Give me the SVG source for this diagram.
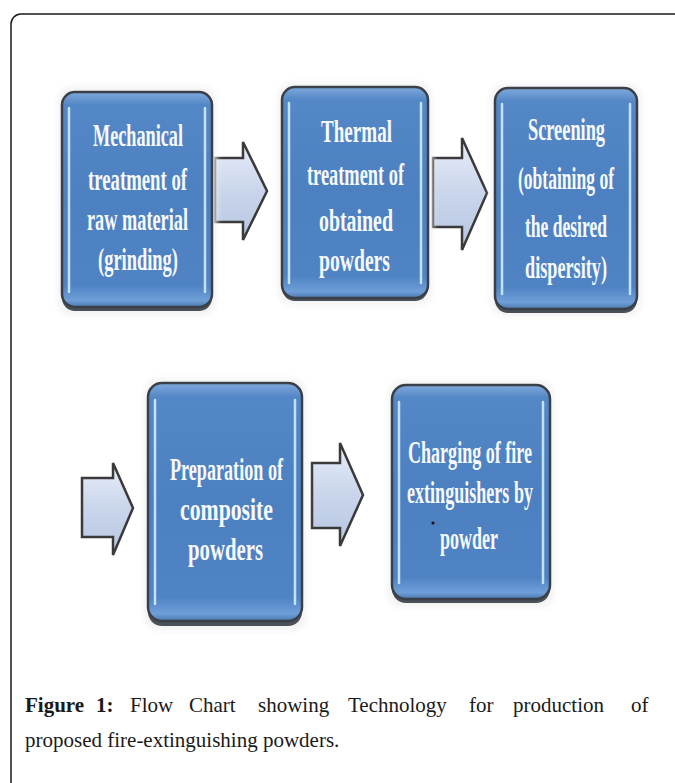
<svg xmlns="http://www.w3.org/2000/svg" width="675" height="783" viewBox="0 0 675 783">
<defs>
<linearGradient id="boxFill" x1="0" y1="0" x2="0" y2="1">
<stop offset="0" stop-color="#7fa9dc"/>
<stop offset="0.06" stop-color="#5487c6"/>
<stop offset="0.5" stop-color="#4d80c0"/>
<stop offset="0.9" stop-color="#4f83c4"/>
<stop offset="0.97" stop-color="#6f9fd8"/>
<stop offset="1" stop-color="#4a78b0"/>
</linearGradient>
<linearGradient id="arrowFill" x1="0" y1="0" x2="0" y2="1">
<stop offset="0" stop-color="#e8eef8"/>
<stop offset="0.5" stop-color="#c9d5eb"/>
<stop offset="1" stop-color="#b6c6e2"/>
</linearGradient>
<filter id="glow" x="-10%" y="-10%" width="120%" height="120%">
<feGaussianBlur stdDeviation="3"/>
</filter>
</defs>
<style>
.frame{fill:none;stroke:#1a1a1a;stroke-width:1.5}
.halo{fill:#f2f2f2;filter:url(#glow)}
.shadow{fill:#4a4f58}
.box{fill:url(#boxFill);stroke:#3b4048;stroke-width:2.5}
.hl{stroke:#c2e2fb;stroke-width:2.5;stroke-linecap:round}
.lbl{font-family:"Liberation Serif","Times New Roman",serif;font-weight:bold;font-size:32px;fill:#f6f9fd}
.arrow{fill:url(#arrowFill);stroke:#3a3a3a;stroke-width:2.5;stroke-linejoin:miter}
.cap{font-family:"Liberation Serif","Times New Roman",serif;font-size:21px;fill:#1a1a1a}
.capb{font-weight:bold}
</style>
<rect class="frame" x="11" y="14" width="720" height="820" rx="10"/>

<g id="connectors">
<polygon class="arrow" points="215,158 243,158 243,142 267,191 243,240 243,222 215,222"/>
<polygon class="arrow" points="433,158 462,158 462,138 487,193 462,250 462,227 433,227"/>
<polygon class="arrow" points="82,478 113,478 113,463 133,508 113,555 113,537 82,537"/>
<polygon class="arrow" points="312,463 340,463 340,443 363,495 340,546 340,528 312,528"/>
</g>

<g id="node1">
<rect class="halo" x="58" y="87" width="158" height="228" rx="14"/>
<rect class="shadow" x="62" y="95" width="150" height="216" rx="13"/>
<rect class="box" x="62" y="92" width="150" height="215" rx="13"/>
<line class="hl" x1="69" y1="108" x2="69" y2="292"/>
<line class="hl" x1="205" y1="108" x2="205" y2="292"/>
<text class="lbl" x="93" y="146" textLength="90" lengthAdjust="spacingAndGlyphs">Mechanical</text>
<text class="lbl" x="88" y="190" textLength="99" lengthAdjust="spacingAndGlyphs">treatment of</text>
<text class="lbl" x="87" y="230" textLength="101" lengthAdjust="spacingAndGlyphs">raw material</text>
<text class="lbl" x="98" y="270" textLength="80" lengthAdjust="spacingAndGlyphs">(grinding)</text>
</g>

<g id="node2">
<rect class="halo" x="278" y="83" width="154" height="222" rx="14"/>
<rect class="shadow" x="282" y="88" width="146" height="213" rx="13"/>
<rect class="box" x="282" y="87" width="146" height="211" rx="13"/>
<line class="hl" x1="289" y1="103" x2="289" y2="283"/>
<line class="hl" x1="421" y1="103" x2="421" y2="283"/>
<text class="lbl" x="321" y="142" textLength="71" lengthAdjust="spacingAndGlyphs">Thermal</text>
<text class="lbl" x="307" y="185" textLength="97" lengthAdjust="spacingAndGlyphs">treatment of</text>
<text class="lbl" x="319" y="231" textLength="74" lengthAdjust="spacingAndGlyphs">obtained</text>
<text class="lbl" x="319" y="271" textLength="71" lengthAdjust="spacingAndGlyphs">powders</text>
</g>

<g id="node3">
<rect class="halo" x="491" y="84" width="150" height="232" rx="14"/>
<rect class="shadow" x="495" y="92" width="142" height="221" rx="13"/>
<rect class="box" x="495" y="88" width="142" height="221" rx="13"/>
<line class="hl" x1="502" y1="104" x2="502" y2="294"/>
<line class="hl" x1="630" y1="104" x2="630" y2="294"/>
<text class="lbl" x="518" y="189" textLength="96" lengthAdjust="spacingAndGlyphs">(obtaining of</text>
<text class="lbl" x="528" y="140" textLength="77" lengthAdjust="spacingAndGlyphs">Screening</text>
<text class="lbl" x="525" y="237" textLength="82" lengthAdjust="spacingAndGlyphs">the desired</text>
<text class="lbl" x="525" y="278" textLength="82" lengthAdjust="spacingAndGlyphs">dispersity)</text>
</g>

<g id="node4">
<rect class="halo" x="144" y="379" width="162" height="251" rx="14"/>
<rect class="shadow" x="148" y="387" width="154" height="239" rx="14"/>
<rect class="box" x="148" y="383" width="154" height="238" rx="14"/>
<line class="hl" x1="155" y1="400" x2="155" y2="604"/>
<line class="hl" x1="295" y1="400" x2="295" y2="604"/>
<text class="lbl" x="170" y="480" textLength="113" lengthAdjust="spacingAndGlyphs">Preparation of</text>
<text class="lbl" x="180" y="520" textLength="93" lengthAdjust="spacingAndGlyphs">composite</text>
<text class="lbl" x="188" y="560" textLength="75" lengthAdjust="spacingAndGlyphs">powders</text>
</g>

<g id="node5">
<rect class="halo" x="388" y="381" width="166" height="226" rx="14"/>
<rect class="shadow" x="392" y="389" width="158" height="214" rx="14"/>
<rect class="box" x="392" y="385" width="158" height="214" rx="14"/>
<line class="hl" x1="399" y1="402" x2="399" y2="583"/>
<line class="hl" x1="543" y1="402" x2="543" y2="583"/>
<text class="lbl" x="408" y="463" textLength="124" lengthAdjust="spacingAndGlyphs">Charging of fire</text>
<text class="lbl" x="407" y="503" textLength="126" lengthAdjust="spacingAndGlyphs">extinguishers by</text>
<circle cx="433" cy="523" r="1.6" fill="#111"/>
<text class="lbl" x="440" y="549" textLength="58" lengthAdjust="spacingAndGlyphs">powder</text>
</g>

<g id="caption">
<text class="cap" y="712"><tspan class="capb" x="25">Figure</tspan><tspan class="capb" x="96">1:</tspan><tspan x="130">Flow</tspan><tspan x="189">Chart</tspan><tspan x="258">showing</tspan><tspan x="348">Technology</tspan><tspan x="469">for</tspan><tspan x="513">production</tspan><tspan x="631">of</tspan></text>
<text class="cap" x="25" y="747">proposed fire-extinguishing powders.</text>
</g>
</svg>
